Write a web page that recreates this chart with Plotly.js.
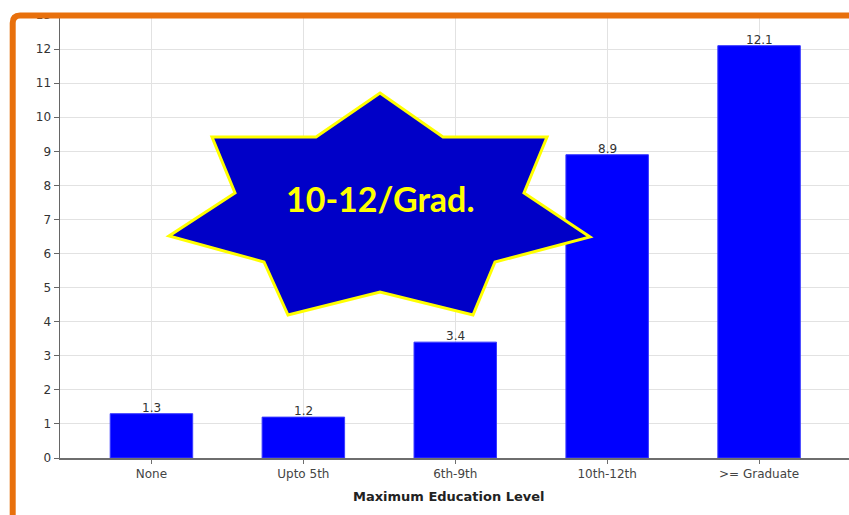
<!DOCTYPE html>
<html>
<head>
<meta charset="utf-8">
<script src="https://cdn.plot.ly/plotly-3.0.1.min.js"></script>
<style>html,body{margin:0;padding:0;background:#fff;}#chart{width:849px;height:515px;}</style>
</head>
<body>
<div id="chart"></div>
<script>
var categories = ["None", "Upto 5th", "6th-9th", "10th-12th", ">= Graduate"];
var values = [1.3, 1.2, 3.4, 8.9, 12.1];
var valueLabels = ["1.3", "1.2", "3.4", "8.9", "12.1"];
var yTicks = [0,1,2,3,4,5,6,7,8,9,10,11,12,13];
var xTitle = "Maximum Education Level";
var starText = "10-12/Grad.";

// plot-area geometry (pixels)
var L = 60, W = 789, T = 0, H = 458;
function px(x){ return (x - L) / W; }
function py(y){ return (T + H - y) / H; }

// decorative star outline (pixel positions)
var starPts = [[380,93],[443,137],[547,137],[524,193],[590,237],[495,262],[473,315],
               [380,292],[288,315],[264,262],[169,236],[235,193],[212,137],[316,137]];
var starPath = starPts.map(function(p,i){ return (i?'L':'M') + px(p[0]).toFixed(5) + ',' + py(p[1]).toFixed(5); }).join(' ') + ' Z';

var borderPath = 'M' + px(12.7) + ',' + py(520) + ' L' + px(12.7) + ',' + py(23) +
  ' Q' + px(12.7) + ',' + py(15.5) + ' ' + px(20) + ',' + py(15.5) + ' L' + px(860) + ',' + py(15.5);

var annotations = categories.map(function(c, i){
  return {x: c, y: values[i], xref: 'x', yref: 'y', text: valueLabels[i], showarrow: false,
          yanchor: 'bottom', yshift: -3, font: {family: 'DejaVu Sans', size: 12, color: '#333'}};
});
annotations.push({x: px(449), y: py(496), xref: 'paper', yref: 'paper', text: '<b>' + xTitle + '</b>', showarrow: false,
  yanchor: 'middle', xanchor: 'center', font: {family: 'DejaVu Sans', size: 13, color: '#222'}});
annotations.push({x: px(380), y: py(199), xref: 'paper', yref: 'paper', text: '<b>' + starText + '</b>', showarrow: false,
  yanchor: 'middle', xanchor: 'center', font: {family: 'Lato', size: 34, color: '#FFFF00'}});

var trace = {
  type: 'bar', x: categories, y: values, width: 0.543,
  marker: {color: '#0000FF', line: {color: '#3a3aff', width: 1}},
  hoverinfo: 'skip'
};

var layout = {
  width: 849, height: 515,
  margin: {l: L, r: 849 - L - W, t: T, b: 515 - T - H},
  paper_bgcolor: '#ffffff', plot_bgcolor: '#ffffff',
  showlegend: false,
  xaxis: {type: 'category', range: [-0.602, 4.592], showgrid: true, gridcolor: '#e2e2e2', gridwidth: 1,
    showline: true, linecolor: '#6e6e6e', linewidth: 2, ticks: 'outside', ticklen: 4, tickcolor: '#6e6e6e',
    tickfont: {family: 'DejaVu Sans', size: 12, color: '#444'}, zeroline: false, fixedrange: true},
  yaxis: {range: [0, 13.44], tickvals: yTicks, ticktext: yTicks.map(String), showgrid: true, gridcolor: '#e2e2e2', gridwidth: 1,
    showline: true, linecolor: '#666', linewidth: 1.5, ticks: 'outside', ticklen: 5, tickcolor: '#666',
    tickfont: {family: 'DejaVu Sans', size: 12, color: '#333'}, zeroline: false, fixedrange: true},
  shapes: [
    {type: 'rect', xref: 'paper', yref: 'paper', x0: px(-5), x1: px(860), y0: py(0), y1: py(14), fillcolor: '#ffffff', line: {width: 0}, layer: 'above'},
    {type: 'path', xref: 'paper', yref: 'paper', path: borderPath, line: {color: '#E8700C', width: 6}, layer: 'above'},
    {type: 'path', xref: 'paper', yref: 'paper', path: starPath, fillcolor: '#0000C8', line: {color: '#FFFF00', width: 3}, layer: 'above'}
  ],
  annotations: annotations
};

Plotly.newPlot('chart', [trace], layout, {displayModeBar: false, staticPlot: true});
</script>
</body>
</html>
